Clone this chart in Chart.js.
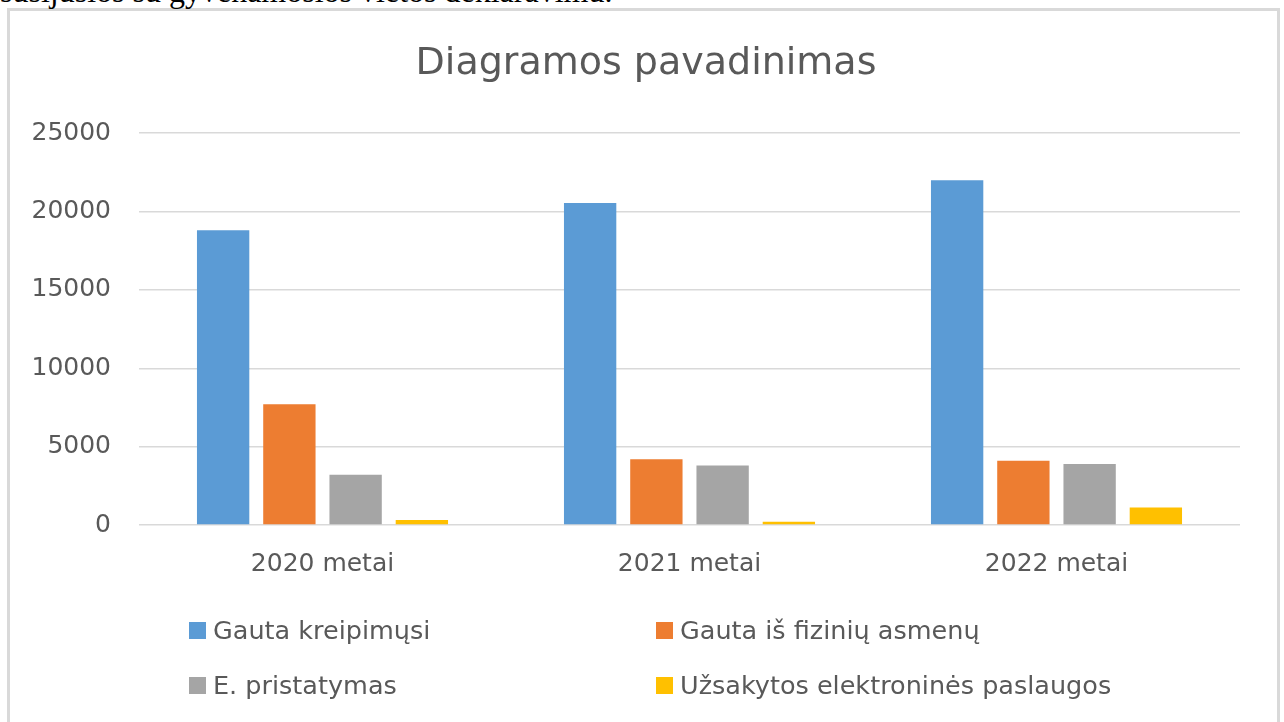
<!DOCTYPE html>
<html lang="lt">
<head>
<meta charset="utf-8">
<title>Diagramos pavadinimas</title>
<script src="https://cdn.jsdelivr.net/npm/chart.js@4"></script>
<style>
  html, body { margin: 0; padding: 0; background: #ffffff; overflow: hidden; }
  body { width: 1284px; height: 722px; position: relative; }
  #frame { position: absolute; left: 7px; top: 8px; width: 1267px; height: 730px; border: 3px solid #d9d9d9; box-sizing: content-box; }
  #doctext { position: absolute; left: 0px; top: -25px; font-family: "Liberation Serif", "Times New Roman", serif; font-size: 32px; line-height: 32px; color: #000; white-space: nowrap; }
  #c { position: absolute; left: 0; top: 0; }
</style>
</head>
<body>
<div id="frame"></div>
<div id="doctext">susijusios su gyvenamosios vietos deklaravimu.</div>
<canvas id="c" width="1284" height="722"></canvas>
<script>
// ---- data ----
const categories = ['2020 metai', '2021 metai', '2022 metai'];
const seriesNames = ['Gauta kreipimųsi', 'Gauta iš fizinių asmenų', 'E. pristatymas', 'Užsakytos elektroninės paslaugos'];
const gautaKreipimusi = [18800, 20550, 22000];
const gautaIsFiziniu = [7700, 4200, 4100];
const ePristatymas = [3200, 3800, 3900];
const uzsakytosPaslaugos = [320, 200, 1120];
const yTickValues = [0, 5000, 10000, 15000, 20000, 25000];
const seriesColors = ['#5B9BD5', '#ED7D31', '#A5A5A5', '#FFC000'];
const chartTitle = 'Diagramos pavadinimas';

const FONT = "'DejaVu Sans', 'Liberation Sans', sans-serif";
const TEXT = '#595959';

const seriesValues = [gautaKreipimusi, gautaIsFiziniu, ePristatymas, uzsakytosPaslaugos];

// legend drawn on the canvas in a 2x2 grid
const gridLegend = {
  id: 'gridLegend',
  afterDraw(chart, args, opts) {
    const ctx = chart.ctx;
    ctx.save();
    ctx.font = opts.fontSize + 'px ' + FONT;
    ctx.textBaseline = 'alphabetic';
    ctx.textAlign = 'left';
    chart.data.datasets.forEach((ds, i) => {
      const col = i % 2, row = Math.floor(i / 2);
      const x = opts.colX[col];
      const base = opts.rowBase[row];
      ctx.fillStyle = ds.backgroundColor;
      ctx.fillRect(x, base - opts.box, opts.box, opts.box);
      ctx.fillStyle = TEXT;
      ctx.fillText(ds.label, x + opts.box + opts.gap, base);
    });
    ctx.restore();
  }
};

new Chart(document.getElementById('c'), {
  type: 'bar',
  data: {
    labels: categories,
    datasets: seriesNames.map((name, i) => ({
      label: name,
      data: seriesValues[i],
      backgroundColor: seriesColors[i],
      borderWidth: 0,
      barPercentage: 0.79,
      categoryPercentage: 0.722,
      yAxisID: 'y'
    }))
  },
  options: {
    responsive: false,
    devicePixelRatio: 1,
    animation: false,
    layout: { padding: { top: 0, left: 8, right: 0, bottom: 119 } },
    plugins: {
      legend: { display: false },
      tooltip: { enabled: false },
      title: {
        display: true,
        text: chartTitle,
        color: TEXT,
        font: { family: FONT, size: 38, weight: 'normal', lineHeight: 1.2 },
        padding: { top: 41, bottom: 46.6 }
      },
      gridLegend: { colX: [189, 656], rowBase: [639, 694], box: 17, gap: 7, fontSize: 25.5 }
    },
    scales: {
      x: {
        grid: { display: false, drawTicks: false },
        border: { display: false },
        ticks: { color: TEXT, padding: 24, font: { family: FONT, size: 25, lineHeight: 1.2 } }
      },
      y: {
        position: 'left',
        min: 0,
        max: 25000,
        afterBuildTicks(axis) { axis.ticks = yTickValues.map(v => ({ value: v })); },
        afterFit(axis) { axis.width = 131; },
        grid: { color: '#d9d9d9', lineWidth: 1.5, drawTicks: false },
        border: { display: false },
        ticks: { color: TEXT, padding: 28, font: { family: FONT, size: 25, lineHeight: 1.2 }, callback: v => String(v) }
      },
      yRight: {
        position: 'right',
        display: true,
        min: 0,
        max: 25000,
        afterFit(axis) { axis.width = 44; },
        grid: { display: false, drawOnChartArea: false, drawTicks: false },
        border: { display: false },
        ticks: { display: false }
      }
    }
  },
  plugins: [gridLegend]
});
</script>
</body>
</html>
